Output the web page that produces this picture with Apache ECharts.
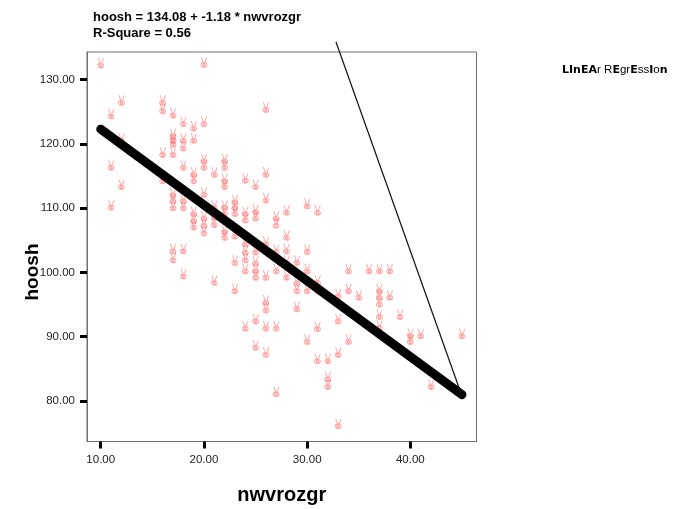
<!DOCTYPE html>
<html><head><meta charset="utf-8">
<script src="https://cdn.jsdelivr.net/npm/echarts@6/dist/echarts.min.js"></script>
<style>html,body{margin:0;padding:0;background:#fff}#c{width:683px;height:509px}</style>
</head><body><div id="c"></div>
<script>
// ---- chart data ----
const xName = 'nwvrozgr';
const yName = 'hoosh';
const intercept = 134.08;
const slope = -1.18;
const rSquare = 0.56;
const fitRange = [10, 45];
const xTicks = [10, 20, 30, 40];
const yTicks = [80, 90, 100, 110, 120, 130];
const legendLabel = 'LInEAr REgrEssIon';

const nwvrozgr = [
  10,
  11, 11, 11,
  12, 12, 12,
  16, 16, 16, 16,
  17, 17, 17, 17, 17, 17, 17, 17, 17, 17,
  18, 18, 18, 18, 18, 18, 18, 18,
  19, 19, 19, 19, 19, 19, 19,
  20, 20, 20, 20, 20, 20, 20, 20,
  21, 21, 21, 21, 21,
  22, 22, 22, 22, 22, 22, 22, 22,
  23, 23, 23, 23, 23, 23,
  24, 24, 24, 24, 24, 24, 24, 24,
  25, 25, 25, 25, 25, 25, 25, 25, 25,
  26, 26, 26, 26, 26, 26, 26, 26, 26,
  27, 27, 27, 27, 27, 27,
  28, 28, 28, 28, 28,
  29, 29, 29, 29,
  30, 30, 30, 30, 30,
  31, 31, 31, 31, 31,
  32, 32, 32,
  33, 33, 33, 33,
  34, 34, 34,
  35,
  36,
  37, 37, 37, 37, 37, 37,
  38, 38,
  39,
  40, 40,
  41,
  42,
  45
];
const hoosh = [
  132.6,
  124.7, 116.7, 110.5,
  126.8, 120.9, 113.7,
  126.8, 125.5, 118.7, 114.6,
  124.8, 121.6, 120.9, 120.3, 118.7, 112.4, 111.5, 110.4, 103.7, 102.3,
  123.5, 120.9, 119.7, 116.7, 111.5, 110.4, 103.7, 99.8,
  122.8, 120.9, 115.6, 114.6, 109.5, 108.4, 107.4,
  132.7, 123.5, 117.7, 116.7, 112.5, 108.8, 107.7, 106.5,
  115.6, 110.5, 108.9, 107.8, 98.8,
  117.7, 116.7, 114.6, 113.7, 110.5, 109.5, 106.7, 105.8,
  111.3, 110.4, 109.5, 106.0, 101.9, 97.5,
  114.7, 109.5, 108.5, 104.8, 103.5, 102.3, 100.6, 91.7,
  113.7, 109.8, 108.8, 103.5, 101.8, 100.6, 99.6, 92.8, 88.7,
  125.7, 115.6, 111.6, 104.8, 99.6, 95.7, 94.5, 91.7, 87.6,
  108.8, 107.7, 103.6, 100.6, 91.7, 81.5,
  109.7, 105.8, 103.7, 101.9, 99.6,
  101.9, 98.7, 97.5, 94.7,
  110.7, 103.6, 100.6, 97.5, 89.6,
  109.7, 98.8, 97.5, 91.6, 86.6,
  86.6, 83.8, 82.6,
  96.7, 92.8, 87.6, 76.5,
  100.6, 97.5, 89.6,
  96.5,
  100.6,
  100.6, 97.5, 96.5, 95.4, 93.5, 91.8,
  100.6, 96.5,
  93.5,
  90.5, 89.6,
  90.5,
  82.6,
  90.5
];

// ---- build ----
const fit = x => intercept + slope * x;
const points = nwvrozgr.map((x, i) => [x, hoosh[i]]);
const fitLine = fitRange.map(x => [x, fit(x)]);
const eqText = yName + ' = ' + intercept.toFixed(2) + ' + ' + slope.toFixed(2) + ' * ' + xName;
const r2Text = 'R-Square = ' + rSquare.toFixed(2);
const FONT = "'Liberation Sans', Arial, sans-serif";

const glyph = 'path://M2.2,0 L4.3,8 M8.2,0.6 L5.9,8 M1.7,11.6 A3.3,3.3 0 1 0 8.3,11.6 A3.3,3.3 0 1 0 1.7,11.6 Z M3.6,11.6 A1.4,1.4 0 1 0 6.4,11.6 A1.4,1.4 0 1 0 3.6,11.6 Z';

const chart = echarts.init(document.getElementById('c'), null, {renderer: 'canvas'});

function axisCommon(ticks) {
  return {
    type: 'value',
    axisLine: {show: true, lineStyle: {color: '#6e6e6e', width: 1}},
    splitLine: {show: false},
    axisTick: {show: true, customValues: ticks, length: 7, inside: false,
               lineStyle: {color: '#000', width: 3}},
    axisLabel: {show: true, customValues: ticks, formatter: v => Number(v).toFixed(2),
                fontSize: 11.5, color: '#222', fontFamily: FONT, margin: 12}
  };
}

const xAxis = Object.assign(axisCommon(xTicks), {
  min: 8.67, max: 46.41,
  name: xName, nameLocation: 'middle', nameGap: 44,
  nameTextStyle: {fontSize: 20, fontWeight: 'bold', color: '#000', fontFamily: FONT}
});
const yAxis = Object.assign(axisCommon(yTicks), {min: 73.7, max: 134.28});

const option = {
  animation: false,
  backgroundColor: '#fff',
  grid: {left: 87, top: 52, right: 206.5, bottom: 67.5, show: true,
         containLabel: false, outerBoundsMode: 'none',
         borderColor: '#6e6e6e', borderWidth: 1, backgroundColor: '#fff'},
  xAxis: xAxis,
  yAxis: yAxis,
  series: [
    {
      type: 'scatter',
      data: points,
      symbol: glyph,
      symbolSize: [6, 10],
      itemStyle: {color: 'rgba(0,0,0,0)', borderColor: 'rgba(255,60,60,0.55)', borderWidth: 1.1},
      silent: true, z: 2
    },
    {
      type: 'line',
      data: fitLine,
      showSymbol: false,
      symbol: 'none',
      lineStyle: {color: '#000', width: 9, cap: 'round'},
      silent: true, z: 3
    }
  ],
  graphic: [
    {type: 'text', id: 'eq', left: 93, top: 10.5,
     style: {text: eqText, font: 'bold 13px ' + FONT, fill: '#000'}},
    {type: 'text', id: 'r2', left: 93, top: 26.5,
     style: {text: r2Text, font: 'bold 13px ' + FONT, fill: '#000'}},
    {type: 'text', id: 'yname', x: 33, y: 272, rotation: Math.PI / 2,
     style: {text: yName, font: 'bold 19px ' + FONT, fill: '#000', align: 'center', verticalAlign: 'middle'}},
    {type: 'text', id: 'leg', x: 562, y: 70,
     style: {
       text: '{b|L}{b|I}{b|n}{b|E}{b|A}{n|r} {n|R}{b|E}{n|gr}{b|E}{n|ss}{b|I}{n|o}{b|n}',
       verticalAlign: 'middle',
       rich: {
         b: {fontFamily: "'DejaVu Sans', sans-serif", fontWeight: 'bold', fontSize: 11, fill: '#000'},
         n: {fontFamily: FONT, fontSize: 11.5, fill: '#000'}
       }
     }}
  ]
};
chart.setOption(option);

const end = chart.convertToPixel({xAxisIndex: 0, yAxisIndex: 0}, fitLine[1]);
chart.setOption({
  graphic: [
    {type: 'line', id: 'leader', z: 10,
     shape: {x1: 336, y1: 42, x2: end[0] - 1.5, y2: end[1] - 3},
     style: {stroke: '#111', lineWidth: 1.2}}
  ]
});
</script>
</body></html>
